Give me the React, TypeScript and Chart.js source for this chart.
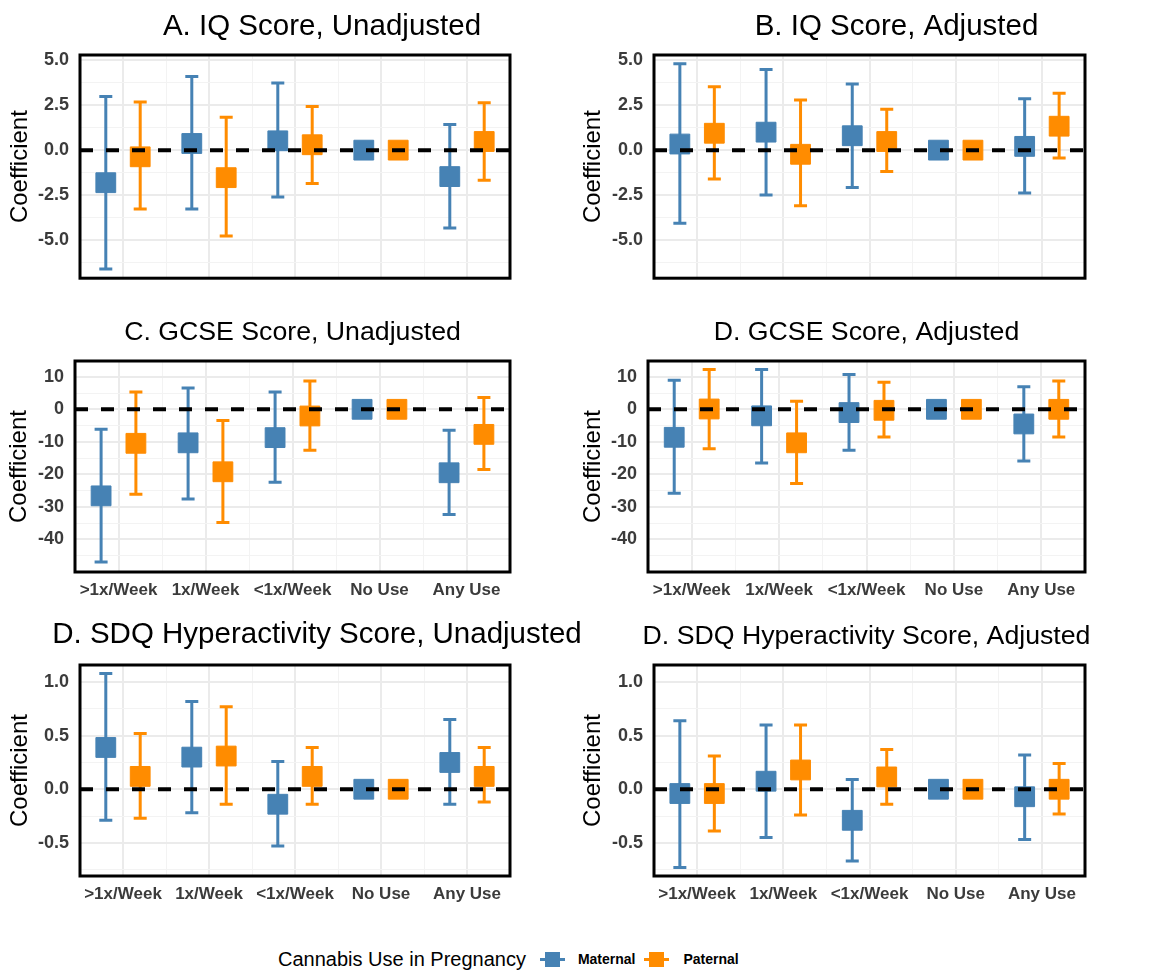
import React, { useEffect, useRef } from 'react';
import { Chart, registerables } from 'chart.js';

Chart.register(...registerables);

// ---------- DATA ----------
const CATEGORIES = ['>1x/Week', '1x/Week', '<1x/Week', 'No Use', 'Any Use'];
const SERIES = ['Maternal', 'Paternal'];

// A. IQ Score, Unadjusted
const IQ_UNADJ_MAT = [-1.81, 0.37, 0.52, 0, -1.47];
const IQ_UNADJ_MAT_LO = [-6.61, -3.27, -2.61, 0, -4.33];
const IQ_UNADJ_MAT_HI = [2.98, 4.09, 3.73, 0, 1.42];
const IQ_UNADJ_PAT = [-0.37, -1.53, 0.3, 0, 0.48];
const IQ_UNADJ_PAT_LO = [-3.27, -4.78, -1.85, 0, -1.67];
const IQ_UNADJ_PAT_HI = [2.68, 1.83, 2.42, 0, 2.63];

// B. IQ Score, Adjusted
const IQ_ADJ_MAT = [0.34, 1.0, 0.8, 0, 0.21];
const IQ_ADJ_MAT_LO = [-4.07, -2.5, -2.08, 0, -2.38];
const IQ_ADJ_MAT_HI = [4.8, 4.49, 3.68, 0, 2.86];
const IQ_ADJ_PAT = [0.94, -0.23, 0.48, 0, 1.33];
const IQ_ADJ_PAT_LO = [-1.6, -3.09, -1.19, 0, -0.43];
const IQ_ADJ_PAT_HI = [3.52, 2.79, 2.27, 0, 3.16];

// C. GCSE Score, Unadjusted
const GCSE_UNADJ_MAT = [-26.6, -10.3, -8.7, 0, -19.5];
const GCSE_UNADJ_MAT_LO = [-46.9, -27.6, -22.4, 0, -32.3];
const GCSE_UNADJ_MAT_HI = [-6.15, 6.56, 5.3, 0, -6.45];
const GCSE_UNADJ_PAT = [-10.45, -19.2, -2.05, 0, -7.7];
const GCSE_UNADJ_PAT_LO = [-26.1, -34.8, -12.6, 0, -18.5];
const GCSE_UNADJ_PAT_HI = [5.3, -3.4, 8.7, 0, 3.6];

// D. GCSE Score, Adjusted
const GCSE_ADJ_MAT = [-8.6, -2.0, -1.0, 0, -4.5];
const GCSE_ADJ_MAT_LO = [-25.8, -16.5, -12.6, 0, -15.9];
const GCSE_ADJ_MAT_HI = [8.9, 12.2, 10.7, 0, 6.9];
const GCSE_ADJ_PAT = [0.1, -10.3, -0.3, 0, 0.0];
const GCSE_ADJ_PAT_LO = [-12.1, -22.8, -8.5, 0, -8.5];
const GCSE_ADJ_PAT_HI = [12.2, 2.5, 8.3, 0, 8.7];

// SDQ Hyperactivity Score, Unadjusted
const SDQ_UNADJ_MAT = [0.39, 0.3, -0.14, 0, 0.25];
const SDQ_UNADJ_MAT_LO = [-0.29, -0.22, -0.53, 0, -0.14];
const SDQ_UNADJ_MAT_HI = [1.08, 0.82, 0.26, 0, 0.65];
const SDQ_UNADJ_PAT = [0.12, 0.31, 0.12, 0, 0.12];
const SDQ_UNADJ_PAT_LO = [-0.27, -0.14, -0.14, 0, -0.12];
const SDQ_UNADJ_PAT_HI = [0.52, 0.77, 0.39, 0, 0.39];

// SDQ Hyperactivity Score, Adjusted
const SDQ_ADJ_MAT = [-0.04, 0.075, -0.29, 0, -0.07];
const SDQ_ADJ_MAT_LO = [-0.73, -0.45, -0.67, 0, -0.47];
const SDQ_ADJ_MAT_HI = [0.64, 0.6, 0.09, 0, 0.32];
const SDQ_ADJ_PAT = [-0.04, 0.18, 0.115, 0, 0.0];
const SDQ_ADJ_PAT_LO = [-0.39, -0.24, -0.14, 0, -0.23];
const SDQ_ADJ_PAT_HI = [0.31, 0.6, 0.37, 0, 0.24];

// Tick values
const X_TICKS = [0.5, 1, 1.5, 2, 2.5, 3, 3.5, 4, 4.5, 5, 5.5];
const IQ_TICKS = [-6.25, -5, -3.75, -2.5, -1.25, 0, 1.25, 2.5, 3.75, 5];
const IQ_MAJOR = [-5, -2.5, 0, 2.5, 5];
const GCSE_TICKS = [-45, -40, -35, -30, -25, -20, -15, -10, -5, 0, 5, 10];
const GCSE_MAJOR = [-40, -30, -20, -10, 0, 10];
const SDQ_TICKS = [-0.75, -0.5, -0.25, 0, 0.25, 0.5, 0.75, 1.0];
const SDQ_MAJOR = [-0.5, 0, 0.5, 1.0];

// ---------- STYLE ----------
const FONT = '"Liberation Sans", Arial, Helvetica, sans-serif';
const BLUE = '#4682B4';
const ORANGE = '#FF8C00';
const TICK_COLOR = '#3b3b3b';
const DODGE = 0.2;

const panelPlugin = {
  id: 'panelDecor',
  beforeDatasetsDraw(chart: any) {
    const ctx = chart.ctx;
    const xs = chart.scales.x;
    const ys = chart.scales.y;
    chart.data.datasets.forEach((ds: any) => {
      ctx.save();
      ctx.strokeStyle = ds.borderColor;
      ctx.lineWidth = 3;
      ctx.lineCap = 'butt';
      ds.data.forEach((p: any, i: number) => {
        const lo = ds.lo[i];
        const hi = ds.hi[i];
        if (lo === hi) return;
        const x = xs.getPixelForValue(p.x);
        const y1 = ys.getPixelForValue(lo);
        const y2 = ys.getPixelForValue(hi);
        ctx.beginPath();
        ctx.moveTo(x, y1);
        ctx.lineTo(x, y2);
        ctx.moveTo(x - 6.5, y1);
        ctx.lineTo(x + 6.5, y1);
        ctx.moveTo(x - 6.5, y2);
        ctx.lineTo(x + 6.5, y2);
        ctx.stroke();
      });
      ctx.restore();
    });
  },
  afterDatasetsDraw(chart: any) {
    const ctx = chart.ctx;
    const ys = chart.scales.y;
    const a = chart.chartArea;
    const y0 = ys.getPixelForValue(0);
    ctx.save();
    ctx.strokeStyle = '#000';
    ctx.lineWidth = 4;
    ctx.setLineDash([13, 13]);
    ctx.beginPath();
    ctx.moveTo(a.left, y0);
    ctx.lineTo(a.right, y0);
    ctx.stroke();
    ctx.restore();
  },
  afterDraw(chart: any, _args: any, opts: any) {
    const ctx = chart.ctx;
    const a = chart.chartArea;
    ctx.save();
    ctx.strokeStyle = '#000';
    ctx.lineWidth = 3;
    ctx.strokeRect(a.left, a.top, a.right - a.left, a.bottom - a.top);
    ctx.fillStyle = '#000';
    ctx.font = `${opts.size}px ${FONT}`;
    ctx.textAlign = 'center';
    ctx.textBaseline = 'alphabetic';
    ctx.fillText(opts.text, (a.left + a.right) / 2 + opts.dx, opts.y);
    ctx.restore();
  },
};

type Panel = {
  title: string; titleSize: number; titleDx: number; titleY: number;
  left: number; top: number; w: number; h: number;
  padL: number; yW: number; padR: number; padT: number; xH: number; padB: number;
  showX: boolean; yMin: number; yMax: number; yTicks: number[]; yMajor: number[]; digits: number;
  mat: number[]; matLo: number[]; matHi: number[]; pat: number[]; patLo: number[]; patHi: number[];
};

const PANELS: Panel[] = [
  { title: 'A. IQ Score, Unadjusted', titleSize: 29.5, titleDx: 27, titleY: 35,
    left: 0, top: 0, w: 600, h: 300, padL: 2, yW: 78, padR: 90, padT: 55, xH: 0, padB: 12,
    showX: false, yMin: -7.12, yMax: 5.29, yTicks: IQ_TICKS, yMajor: IQ_MAJOR, digits: 1,
    mat: IQ_UNADJ_MAT, matLo: IQ_UNADJ_MAT_LO, matHi: IQ_UNADJ_MAT_HI,
    pat: IQ_UNADJ_PAT, patLo: IQ_UNADJ_PAT_LO, patHi: IQ_UNADJ_PAT_HI },
  { title: 'B. IQ Score, Adjusted', titleSize: 29.5, titleDx: 27, titleY: 35,
    left: 575, top: 0, w: 575, h: 300, padL: 0, yW: 79, padR: 65, padT: 55, xH: 0, padB: 12,
    showX: false, yMin: -7.12, yMax: 5.29, yTicks: IQ_TICKS, yMajor: IQ_MAJOR, digits: 1,
    mat: IQ_ADJ_MAT, matLo: IQ_ADJ_MAT_LO, matHi: IQ_ADJ_MAT_HI,
    pat: IQ_ADJ_PAT, patLo: IQ_ADJ_PAT_LO, patHi: IQ_ADJ_PAT_HI },
  { title: 'C. GCSE Score, Unadjusted', titleSize: 26.7, titleDx: 0, titleY: 40,
    left: 0, top: 300, w: 600, h: 310, padL: 1, yW: 74, padR: 90, padT: 61, xH: 38, padB: 0,
    showX: true, yMin: -50, yMax: 14.85, yTicks: GCSE_TICKS, yMajor: GCSE_MAJOR, digits: 0,
    mat: GCSE_UNADJ_MAT, matLo: GCSE_UNADJ_MAT_LO, matHi: GCSE_UNADJ_MAT_HI,
    pat: GCSE_UNADJ_PAT, patLo: GCSE_UNADJ_PAT_LO, patHi: GCSE_UNADJ_PAT_HI },
  { title: 'D. GCSE Score, Adjusted', titleSize: 26.7, titleDx: 0, titleY: 40,
    left: 575, top: 300, w: 575, h: 310, padL: 0, yW: 73, padR: 65, padT: 61, xH: 38, padB: 0,
    showX: true, yMin: -50, yMax: 14.85, yTicks: GCSE_TICKS, yMajor: GCSE_MAJOR, digits: 0,
    mat: GCSE_ADJ_MAT, matLo: GCSE_ADJ_MAT_LO, matHi: GCSE_ADJ_MAT_HI,
    pat: GCSE_ADJ_PAT, patLo: GCSE_ADJ_PAT_LO, patHi: GCSE_ADJ_PAT_HI },
  { title: 'D. SDQ Hyperactivity Score, Unadjusted', titleSize: 29.5, titleDx: 22, titleY: 33,
    left: 0, top: 610, w: 600, h: 310, padL: 2, yW: 78, padR: 90, padT: 55, xH: 44, padB: 0,
    showX: true, yMin: -0.81, yMax: 1.16, yTicks: SDQ_TICKS, yMajor: SDQ_MAJOR, digits: 1,
    mat: SDQ_UNADJ_MAT, matLo: SDQ_UNADJ_MAT_LO, matHi: SDQ_UNADJ_MAT_HI,
    pat: SDQ_UNADJ_PAT, patLo: SDQ_UNADJ_PAT_LO, patHi: SDQ_UNADJ_PAT_HI },
  { title: 'D. SDQ Hyperactivity Score, Adjusted', titleSize: 26.7, titleDx: -3, titleY: 34,
    left: 575, top: 610, w: 575, h: 310, padL: 0, yW: 79, padR: 65, padT: 55, xH: 44, padB: 0,
    showX: true, yMin: -0.81, yMax: 1.16, yTicks: SDQ_TICKS, yMajor: SDQ_MAJOR, digits: 1,
    mat: SDQ_ADJ_MAT, matLo: SDQ_ADJ_MAT_LO, matHi: SDQ_ADJ_MAT_HI,
    pat: SDQ_ADJ_PAT, patLo: SDQ_ADJ_PAT_LO, patHi: SDQ_ADJ_PAT_HI },
];

function PanelChart({ p }: { p: Panel }) {
  const ref = useRef<HTMLCanvasElement | null>(null);
  useEffect(() => {
    if (!ref.current) return;
    const mk = (vals: number[], off: number) => vals.map((v, i) => ({ x: i + 1 + off, y: v }));
    const chart = new Chart(ref.current, {
      type: 'scatter',
      data: {
        datasets: [
          { label: SERIES[0], data: mk(p.mat, -DODGE), lo: p.matLo, hi: p.matHi,
            backgroundColor: BLUE, borderColor: BLUE, pointStyle: 'rect', pointRadius: 14, borderWidth: 1 } as any,
          { label: SERIES[1], data: mk(p.pat, DODGE), lo: p.patLo, hi: p.patHi,
            backgroundColor: ORANGE, borderColor: ORANGE, pointStyle: 'rect', pointRadius: 14, borderWidth: 1 } as any,
        ],
      },
      options: {
        responsive: false,
        animation: false,
        events: [],
        layout: { padding: { left: p.padL, right: p.padR, top: p.padT, bottom: p.padB } },
        plugins: {
          legend: { display: false },
          tooltip: { enabled: false },
          panelDecor: { text: p.title, size: p.titleSize, dx: p.titleDx, y: p.titleY },
        } as any,
        scales: {
          x: {
            type: 'linear',
            min: 0.5,
            max: 5.5,
            afterBuildTicks: (s: any) => { s.ticks = X_TICKS.map((v) => ({ value: v })); },
            afterFit: (s: any) => { s.height = p.xH; },
            border: { display: false },
            grid: {
              drawTicks: false,
              color: (c: any) => (Number.isInteger(c.tick?.value) ? '#EBEBEB' : '#F3F3F3'),
              lineWidth: (c: any) => (Number.isInteger(c.tick?.value) ? 2 : 1),
            },
            ticks: {
              display: p.showX,
              autoSkip: false,
              maxRotation: 0,
              padding: 8,
              color: TICK_COLOR,
              font: { family: FONT, size: 17, weight: 'bold' },
              callback: (v: any) => (Number.isInteger(v) ? CATEGORIES[v - 1] : ''),
            },
          },
          y: {
            type: 'linear',
            min: p.yMin,
            max: p.yMax,
            afterBuildTicks: (s: any) => { s.ticks = p.yTicks.map((v) => ({ value: v })); },
            afterFit: (s: any) => { s.width = p.yW; },
            border: { display: false },
            grid: {
              drawTicks: false,
              color: (c: any) => (p.yMajor.includes(c.tick?.value) ? '#EBEBEB' : '#F3F3F3'),
              lineWidth: (c: any) => (p.yMajor.includes(c.tick?.value) ? 2 : 1),
            },
            ticks: {
              autoSkip: false,
              padding: 11,
              color: TICK_COLOR,
              font: { family: FONT, size: 18, weight: 'bold' },
              callback: (v: any) => (p.yMajor.includes(v) ? Number(v).toFixed(p.digits) : ''),
            },
            title: {
              display: true,
              text: 'Coefficient',
              color: '#000',
              font: { family: FONT, size: 24 },
              padding: { top: 4, bottom: 0 },
            },
          },
        },
      } as any,
      plugins: [panelPlugin],
    });
    return () => chart.destroy();
  }, [p]);
  return (
    <canvas
      ref={ref}
      width={p.w}
      height={p.h}
      style={{ position: 'absolute', left: p.left, top: p.top, width: p.w, height: p.h }}
    />
  );
}

function LegendKey({ color }: { color: string }) {
  return (
    <div style={{ position: 'relative', width: 25, height: 16 }}>
      <div style={{ position: 'absolute', left: 0, top: 6.5, width: 25, height: 3, background: color }} />
      <div style={{ position: 'absolute', left: 5, top: 0.5, width: 15, height: 15, background: color }} />
    </div>
  );
}

export default function App() {
  return (
    <div style={{ position: 'absolute', left: 0, top: 0, width: 1150, height: 971, background: '#fff', overflow: 'hidden' }}>
      {PANELS.map((p, i) => (
        <PanelChart key={i} p={p} />
      ))}
      <div
        style={{
          position: 'absolute', left: 278, top: 945, height: 28, display: 'flex', alignItems: 'center',
          fontFamily: FONT, color: '#000', whiteSpace: 'nowrap',
        }}
      >
        <span style={{ fontSize: 20, marginRight: 14 }}>Cannabis Use in Pregnancy</span>
        <LegendKey color={BLUE} />
        <span style={{ fontSize: 14, fontWeight: 'bold', marginLeft: 13, marginRight: 8 }}>{SERIES[0]}</span>
        <LegendKey color={ORANGE} />
        <span style={{ fontSize: 14, fontWeight: 'bold', marginLeft: 15 }}>{SERIES[1]}</span>
      </div>
    </div>
  );
}
